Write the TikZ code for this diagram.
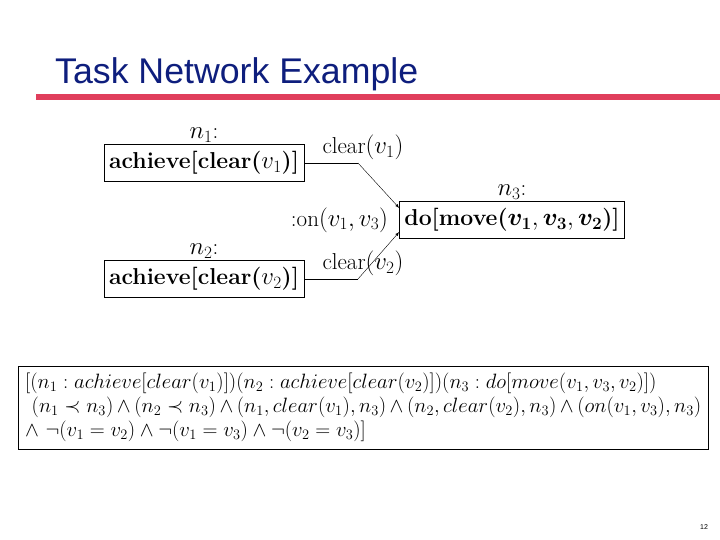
\documentclass[tikz,border=0pt]{standalone}
\usepackage{amsmath}
\usepackage{amssymb}
\usepackage{fontspec}
\setsansfont{Liberation Sans}
\usetikzlibrary{
positioning,
arrows.meta
}
\definecolor{titleblue}{RGB}{14,30,125}
\definecolor{barred}{RGB}{224,62,92}

\begin{document}
\begin{tikzpicture}[x=1pt,y=-1pt,>=latex,
  task/.style={draw,thin,inner xsep=5pt,inner ysep=7pt,font=\fontsize{23}{26}\selectfont\bfseries},
  lbl/.style={inner sep=1pt,font=\fontsize{23}{26}\selectfont}]

\useasboundingbox (0,0) rectangle (720,540);

% Title and bar
\node[anchor=base west,inner sep=0pt,text=titleblue,font=\sffamily\fontsize{35.7}{40}\selectfont] (title) at (55,84) {Task Network Example};
\fill[barred] (36,94) rectangle (720,100);

% Task nodes
\node[task] (n1) at (204,163) {achieve[clear($v_1$)]};
\node[task] (n2) at (204,279) {achieve[clear($v_2$)]};
\node[task] (n3) at (512,220) {do[move($\boldsymbol{v_1}, \boldsymbol{v_3}, \boldsymbol{v_2}$)]};

\node[lbl,above=1pt of n1] (n1name) {$n_1$:};
\node[lbl,above=1pt of n2] (n2name) {$n_2$:};
\node[lbl,above=1pt of n3] (n3name) {$n_3$:};

% Links
\coordinate (k1) at (358,163);
\coordinate (k2) at (358,279);
\draw[thin] (n1.east) -- (k1);
\draw[thin] (n2.east) -- (k2);
\draw[->,thin] (k1) -- ([yshift=12pt]n3.west);
\draw[->,thin] (k2) -- ([yshift=-12pt]n3.west);

\node[lbl,anchor=south] (c1) at (363,161) {clear$(v_1)$};
\node[lbl,anchor=south] (c2) at (363,277) {clear$(v_2)$};
\node[lbl,left=10pt of n3] (on) {:on$(v_1, v_3)$};

% Formula
\node[draw,thin,anchor=north west,minimum width=690pt,minimum height=83pt,
      text width=676pt,align=left,inner xsep=7pt,
      font=\fontsize{19.5}{24}\selectfont] (formula) at (18,366)
{$[(n_1 : achieve[clear(v_1)])(n_2 : achieve[clear(v_2)])(n_3 : do[move(v_1, v_3, v_2)])$\\
\ $(n_1 \prec n_3) \wedge (n_2 \prec n_3) \wedge (n_1, clear(v_1), n_3) \wedge (n_2, clear(v_2), n_3) \wedge (on(v_1, v_3), n_3)$\\
$\wedge\ \neg(v_1 = v_2) \wedge \neg(v_1 = v_3) \wedge \neg(v_2 = v_3)]$};

% Page number
\node[inner sep=0pt,font=\sffamily\fontsize{7}{8}\selectfont] (page) at (704,527) {12};

\end{tikzpicture}
\end{document}
